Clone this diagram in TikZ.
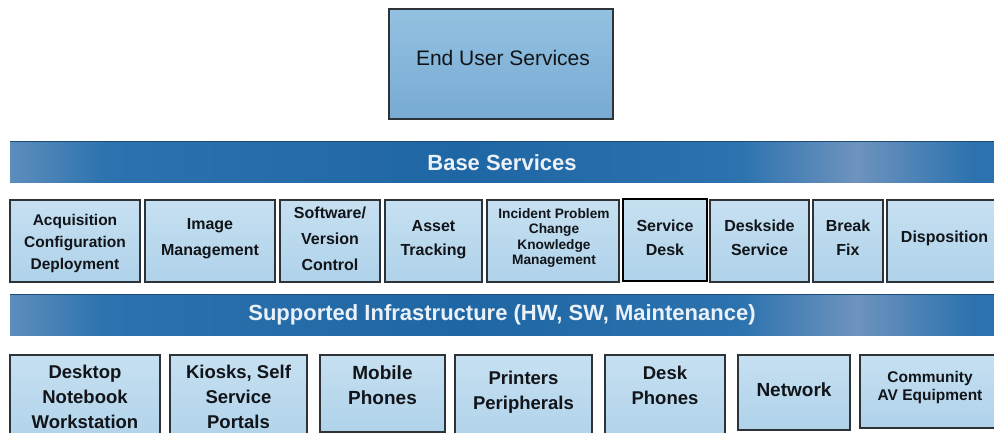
\documentclass[tikz,border=0pt]{standalone}
\usepackage{fontspec}
\setmainfont{Liberation Sans}

% colours
\definecolor{cellline}{HTML}{2E3338}
\definecolor{cellhi}{HTML}{C6E0F1}
\definecolor{celllo}{HTML}{AFD2EA}
\definecolor{tophi}{HTML}{93C1E1}
\definecolor{toplo}{HTML}{78ABD3}
\definecolor{celltext}{HTML}{111418}
\definecolor{bartext}{HTML}{EAF1F8}
\definecolor{barline}{HTML}{1D4C78}
\definecolor{barA}{HTML}{2F76B2}
\definecolor{barB}{HTML}{6492C0}
\definecolor{barC}{HTML}{8FA9C9}
\definecolor{barD}{HTML}{2B72AE}
\definecolor{barE}{HTML}{1F66A4}
\definecolor{barF}{HTML}{6E93BE}
\definecolor{barG}{HTML}{266CA8}

% streaked band colouring of the two layer bars
\pgfdeclarehorizontalshading{barshade}{100bp}{%
  color(0bp)=(barA); color(12bp)=(barB); color(20bp)=(barC);
  color(30bp)=(barD); color(48bp)=(barE); color(62bp)=(barD);
  color(68bp)=(barF); color(74bp)=(barD); color(100bp)=(barG)}

\begin{document}
\begin{tikzpicture}[x=1pt,y=-1pt,
  cell/.style={draw=cellline, line width=1.1pt, top color=cellhi,
    bottom color=celllo, inner sep=0pt, outer sep=0pt},
  boldcell/.style={cell, draw=black, line width=2pt},
  row2/.style={cell, minimum height=82pt},
  row3/.style={cell},
  ctext/.style={text=celltext, align=center, inner sep=0pt,
    font=\fontsize{16}{24}\selectfont\bfseries},
  layerbar/.style={draw=none, shading=barshade, minimum width=984pt,
    minimum height=41pt, inner sep=0pt, outer sep=0pt, text=bartext,
    font=\fontsize{22}{24}\selectfont\bfseries},
  topbox/.style={draw=cellline, line width=1.2pt, top color=tophi,
    bottom color=toplo, minimum width=224pt, minimum height=110pt,
    inner sep=0pt, outer sep=0pt}]

\clip (0,0) rectangle (994,433);
\fill[white] (0,0) rectangle (994,433);

% top layer
\node[topbox] (eus) at (501,64) {};
\node[text=celltext, font=\fontsize{21}{24}\selectfont] (eus-t) at (503,58) {End User Services};

% base services bar
\node[layerbar] (base) at (502,162.5) {Base Services};
\draw[barline, line width=1pt] (base.north west) -- (base.north east);

% base service cells
\node[row2, minimum width=130pt] (acq) at (75,241) {};
\node[ctext, font=\fontsize{15.5}{22}\selectfont\bfseries] (acq-t) at (75,243)
  {Acquisition\\Configuration\\Deployment};
\node[row2, minimum width=130pt] (img) at (210,241) {};
\node[ctext, font=\fontsize{16}{26}\selectfont\bfseries] (img-t) at (210,239) {Image\\Management};
\node[row2, minimum width=100pt] (swv) at (330,241) {};
\node[ctext, font=\fontsize{16}{26}\selectfont\bfseries] (swv-t) at (330,239)
  {Software/\\Version\\Control};
\node[row2, minimum width=97pt] (ast) at (433.5,241) {};
\node[ctext] (ast-t) at (433.5,240) {Asset\\Tracking};
\node[row2, minimum width=132pt] (inc) at (553,241) {};
\node[ctext, font=\fontsize{13.7}{15.3}\selectfont\bfseries] (inc-t) at (554,238)
  {Incident Problem\\Change\\Knowledge\\Management};
\node[row2, boldcell, minimum width=84pt] (sdk) at (665,240) {};
\node[ctext] (sdk-t) at (665,238) {Service\\Desk};
\node[row2, minimum width=99pt] (dsk) at (759.5,241) {};
\node[ctext] (dsk-t) at (759.5,238) {Deskside\\Service};
\node[row2, minimum width=70pt] (brk) at (848,241) {};
\node[ctext] (brk-t) at (848,238) {Break\\Fix};
\node[row2, minimum width=115pt] (dsp) at (944.5,241) {};
\node[ctext] (dsp-t) at (944.5,238) {Disposition};

% supported infrastructure bar
\node[layerbar] (infra) at (502,314.5) {Supported Infrastructure (HW, SW, Maintenance)};
\draw[barline, line width=1pt] (infra.north west) -- (infra.north east);

% infrastructure cells
\node[row3, minimum width=150pt, minimum height=90pt] (dtp) at (85,400) {};
\node[ctext, font=\fontsize{18.5}{25}\selectfont\bfseries] (dtp-t) at (85,397)
  {Desktop\\Notebook\\Workstation};
\node[row3, minimum width=137pt, minimum height=90pt] (ksk) at (238.5,400) {};
\node[ctext, font=\fontsize{18.5}{25}\selectfont\bfseries] (ksk-t) at (238.5,397)
  {Kiosks, Self\\Service\\Portals};
\node[row3, minimum width=125pt, minimum height=77pt] (mob) at (382.5,393.5) {};
\node[ctext, font=\fontsize{19}{25}\selectfont\bfseries] (mob-t) at (382.5,385)
  {Mobile\\Phones};
\node[row3, minimum width=137pt, minimum height=90pt] (prn) at (523.5,400) {};
\node[ctext, font=\fontsize{18.5}{25}\selectfont\bfseries] (prn-t) at (523.5,392)
  {Printers\\Peripherals};
\node[row3, minimum width=120pt, minimum height=90pt] (dph) at (665,400) {};
\node[ctext, font=\fontsize{18.5}{25}\selectfont\bfseries] (dph-t) at (665,385)
  {Desk\\Phones};
\node[row3, minimum width=112pt, minimum height=75pt] (net) at (794,392.5) {};
\node[ctext, font=\fontsize{19}{25}\selectfont\bfseries] (net-t) at (794,390) {Network};
\node[row3, minimum width=140pt, minimum height=73pt] (com) at (930,391.5) {};
\node[ctext, font=\fontsize{15.5}{18}\selectfont\bfseries] (com-t) at (930,387)
  {Community\\AV Equipment};

\end{tikzpicture}
\end{document}
